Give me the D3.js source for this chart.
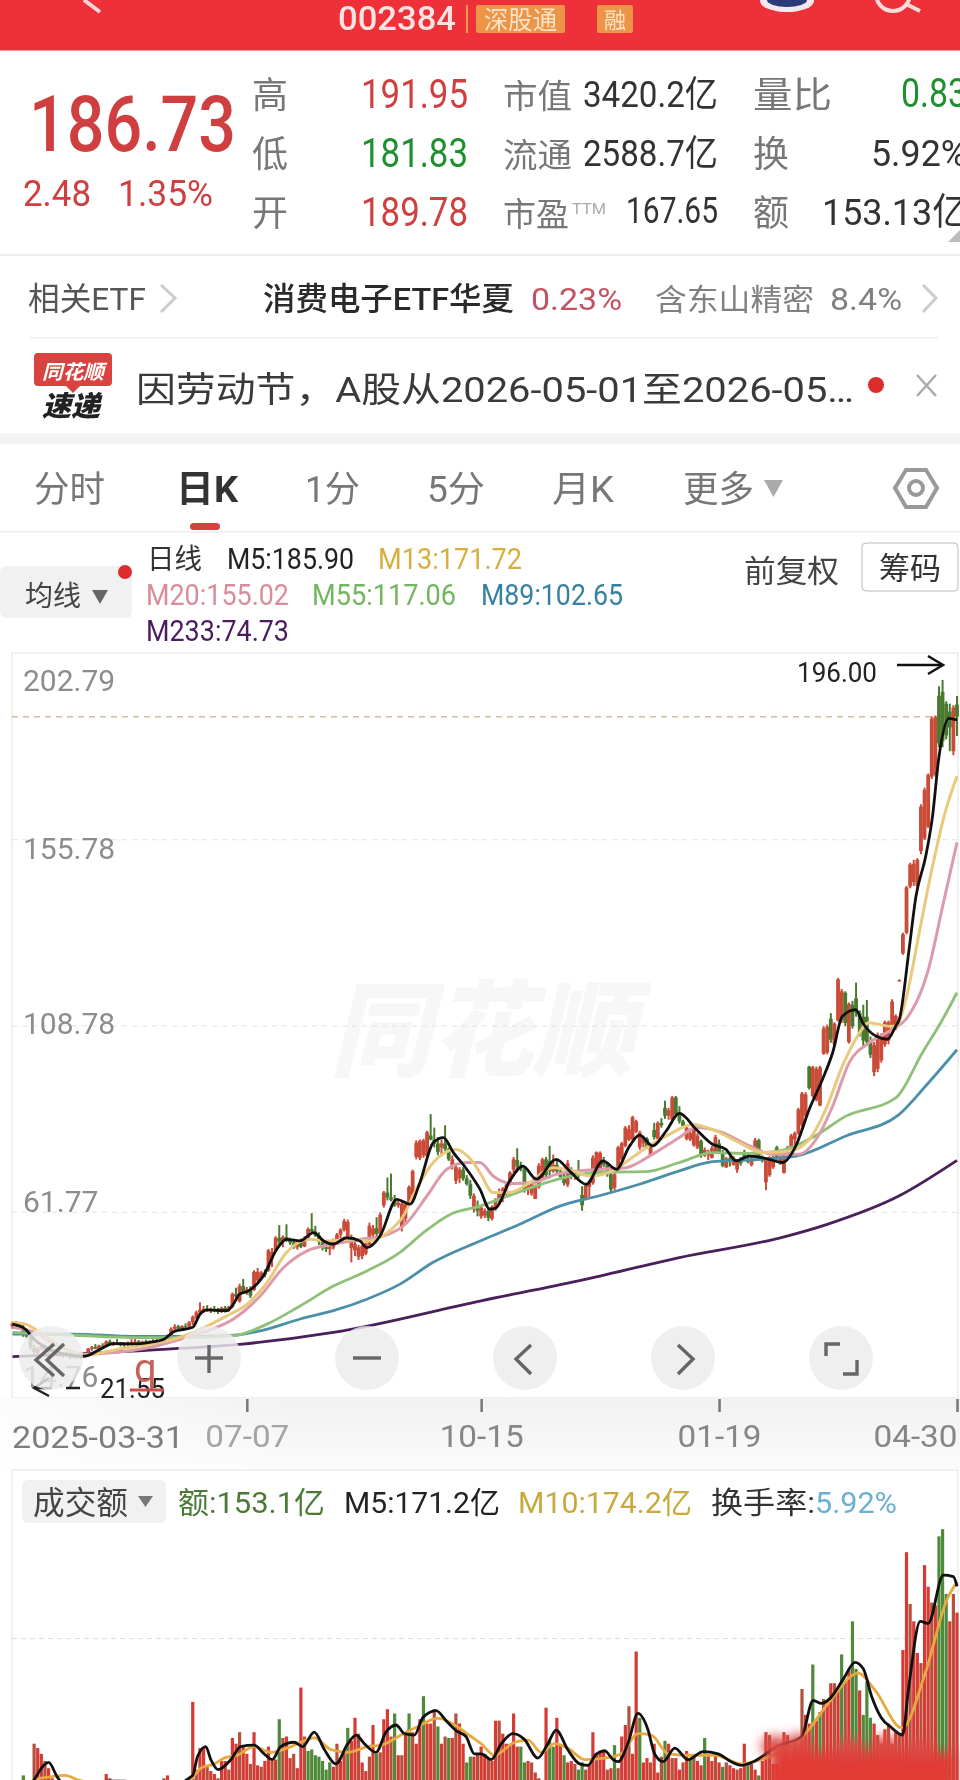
<!DOCTYPE html>
<html>
<head>
<meta charset="utf-8">
<script src="https://cdn.jsdelivr.net/npm/d3@7"></script>
<style>
  html, body { margin: 0; padding: 0; background: #fff; overflow: hidden; }
  svg { display: block; filter: blur(0.45px); }
  text { font-family: Roboto, "Noto Sans CJK SC", sans-serif; }
</style>
</head>
<body>
<script>
// one row per trading day: open, high, low, close
var candleRows = [
  [32.8,34,32.2,33.6],[33.6,34.2,32.8,33.2],[33.2,33.9,32.4,32.6],[32.6,33.8,30.2,31.4],[31.4,32,29.8,30.2],[30.2,30.8,27,27.6],[27.4,28.2,25.8,26.4],[26.2,27.6,25.6,27.2],[27.2,28.4,26.8,27.8],[27.6,28,26.6,26.9],
  [26.9,27.4,26,26.3],[26.3,27,25.9,26.7],[26.7,27.1,25.7,25.9],[25.9,26.5,25.2,25.5],[25.5,26.2,24.9,25.9],[25.9,26.4,25.1,25.4],[25.4,25.9,24.6,25],[25,25.8,24.8,25.5],[25.5,25.8,24.7,24.9],[24.9,25.9,24.6,25.7],
  [25.7,26.4,25.3,26.1],[26.1,27.4,25.9,27.2],[27.2,27.9,26.7,27.6],[27.6,28.4,27.1,27.2],[27.2,28.2,26.9,28],[28,28.6,27.5,27.8],[27.8,29.3,27.6,29],[29,29.5,28.1,28.4],[28.4,29,27.9,28.7],[28.7,29.6,28.2,28.4],
  [28.4,28.9,27.8,28.1],[28.1,28.8,27.6,28.5],[28.5,29,27.9,28.2],[28.2,29.6,28,28.9],[28.9,30.6,28.4,29],[29,29.4,28.1,28.4],[28.4,29.2,28.1,29],[29,29.5,28.3,28.6],[28.6,29.3,28.2,29.1],[29.1,29.6,28.5,28.9],
  [28.9,29.8,28.7,29.4],[29.4,29.9,28.9,29.2],[29.2,30.2,29,30],[30,30.8,29.6,30.4],[30,32.6,29.7,32.2],[32.2,33.4,31.4,32.8],[32.8,33.2,31.9,32.3],[32.3,33.1,32,32.9],[32.9,33.6,32.4,32.8],[32.8,34.2,32.5,33.8],
  [33.8,35.6,33.2,35.2],[35,36.8,34.6,36.4],[36.4,38.9,36,37],[37,38,36.2,37.2],[37.2,38.2,36.5,36.8],[36.8,37.6,36.2,37.2],[37.2,38,36.4,36.9],[36.9,37.5,36,36.5],[36.5,37.8,36.2,37.5],[37.5,38,36.3,37],
  [37,38,36.6,37.8],[37.8,41.4,37.4,41],[41,42.6,40,40.4],[39.2,43.6,38.8,43],[43,44.8,41.2,41.8],[41.8,42.8,40.8,42.2],[42.2,43,40,40.6],[42,47,41.8,46.6],[44.4,47.6,44,46.6],[44.8,46.8,44.4,46.4],
  [46.4,47.2,45.2,45.8],[47,52.4,46.6,52],[50,52.6,47.8,51.6],[52,55.6,51.6,55.2],[55.2,58.4,53,54.2],[54.2,55.8,52.8,55.4],[55.4,58.6,54.2,54.8],[54.8,55.2,53.4,54],[54,55,52.4,52.8],[52.8,54.6,52.2,54.2],
  [54.2,55,52.6,53],[53,55.6,52.8,55.2],[55.2,57.8,54.8,57.4],[57.4,61.4,56.2,56.8],[56.8,58.2,55.4,55.8],[55.8,56.6,53.4,54.2],[54.2,55,52,52.8],[52.8,53.6,51.6,52.4],[52.4,53.4,50.8,52.8],[52.8,55,52.2,54.6],
  [54.6,56.4,54.2,56],[56,57.6,55,57.2],[57.2,60,56.8,59.4],[55.6,59.8,55,59.2],[52.6,56,49,55],[52,54.2,50.6,53.6],[50.4,53.4,49.6,52.8],[50.6,53.4,49.8,53.2],[51.2,54,50.8,53.6],[53.4,59,53,58.2],
  [56,58.4,55,57.6],[57.6,60.4,55.6,56.2],[56.2,61.6,55.8,61],[63.4,67,62.8,66.6],[66.6,70.4,64.6,65.4],[65.4,71.4,64.4,64.8],[64.8,66,63,63.4],[63.4,64.6,62.8,64],[57.8,64.2,56.8,63.8],[60,64.4,59,63.6],
  [64,68.4,63.6,68],[66,72.4,65.4,72],[75.6,79.8,75,79.2],[75.4,80,74.8,79.6],[76,80.2,75.4,79.8],[75.8,82.2,75.4,81.8],[81,86.4,79.8,80],[80,83,78,79],[79,80.6,76,76.8],[78,80,75.8,79],
  [79,83.6,77,77.6],[77.6,78,74.6,75],[73.4,76,72.4,75],[69.6,73.6,68.8,73],[70.2,73,69,72.4],[72.4,73,69.6,70.2],[70.2,71,68.4,68.8],[68.8,69.8,65,65.8],[62.4,66.4,61.6,65.8],[62.6,64.6,60.6,62],
  [60.6,63.4,60,62.8],[60.8,62.6,60.2,62],[62,63,59.4,60.2],[60,63.4,59.6,63],[62.6,65.2,62,64.8],[64.4,67.6,63.4,67],[66,68,64.2,67.6],[67.6,69,66,68.6],[68.6,72,68.4,71.6],[72.4,75.6,71.6,75],
  [74.8,77.8,72.4,73.2],[73.2,74.4,72,72.6],[72.6,73,66.6,67.4],[67.4,69,66,68.6],[66.4,69.4,65.8,69],[65,68.6,65,68],[68,74,67.6,73.4],[70.4,75.4,70,75],[75,75.6,70.4,71],[74.6,78.4,70.2,72],
  [72,76.2,71.6,73.6],[73.6,75,71.2,72],[72,72.8,70,70.6],[70,71.4,68.4,69],[68.6,74.8,68,74],[72,73,70,70.6],[70.6,72,69.8,71.4],[71.4,74.8,70.2,71],[66,68.2,62,63.4],[65,68.8,64.8,68.4],
  [68,69.6,65.4,69],[69,76,68.6,75.4],[71.6,77,71.2,76.8],[72.8,77,72.4,76.6],[74.6,75.6,73,73.6],[73.6,74,70.6,71.2],[71.2,71.8,66.6,67.4],[67.8,71.6,67.2,71.2],[72.4,78.4,72,78],[75,79.4,74.6,79],
  [78.4,83.4,78,83],[80,83.6,79.6,82.6],[80,86,79.6,85.6],[82,85,81.6,84.6],[78,82.2,77.4,81.8],[79,81,78,80.4],[80.2,80.6,77.6,78],[76,78.6,75.8,78.2],[82.4,84.2,80,80.6],[80.2,84.6,79.8,84.2],
  [84.2,85.4,83,83.6],[88,89.8,85.2,86],[86,88,85,87.4],[85,91,84.6,90.6],[90.6,91,85.8,86.4],[86.4,88.4,84,84.6],[84.6,85,83,83.4],[80.2,83.4,79.8,83],[80,82.6,79.6,81.6],[78.6,83.2,78.2,82.4],
  [78,81.6,77.6,81],[79.6,80,75.4,76],[76,78,75.6,77.4],[76,77.4,74.8,76.8],[75.4,78.4,75.2,77.8],[76.8,81.2,76.4,80.6],[79,80,76.4,76.8],[76.8,77.4,73,73.4],[73,75.6,72.8,75.2],[75.2,76,73.2,74.8],
  [73.6,75.8,73.4,75.4],[72.4,75,71.6,74.6],[74.6,75.6,73.4,74],[76.4,77.4,74.8,75.2],[75.2,76.6,74,74.4],[73.6,75.6,73.2,75.2],[76,80.4,75.6,79.8],[79.8,80.2,74.8,75.4],[75,76,74.2,74.6],[69.2,75.2,67.2,74.8],
  [71,75.8,70.6,75.4],[73,76,72.6,75.6],[78,78.4,74.8,75.4],[74,76,73.6,75.6],[71.6,77.2,71.4,76.8],[76,78.4,75.6,78],[78,81.4,77.4,81],[80,82,78.6,81.6],[81.6,88,81.2,87.6],[83.6,92,83.2,91.6],
  [86,92,85,91.4],[98.4,98.6,92.6,93],[91,98.6,90.6,98.2],[90,98.4,89.6,97.8],[88.6,98.6,88.4,98.2],[101.6,108.6,101.4,108],[102,109,101.5,108.4],[110.5,111.9,104.4,105.2],[104,109.6,103.4,109.2],[110,120.8,109.8,120.4],
  [110,118,109.4,117.4],[117,117.4,108.6,109.4],[104.6,114.6,104.2,114.2],[114,115,108,108.6],[115.6,119.6,111,112],[112,112.6,106,107],[111,114,103.4,105],[111,115.2,103.6,104.6],[104.6,106,100.6,101.4],[97,104.6,96,103.8],
  [97.8,107,97,106.2],[100,106.8,99.4,106],[104,110,103.4,109.6],[105,110,104,109.6],[108.6,115.4,108,114.8],[108,111.6,107.6,111.2],[120,120.4,119.8,120.2],[127,132.2,126.6,131.8],[132.2,144,131.8,143.6],[143.9,149.8,143.4,149.4],
  [145,150.6,144,149.6],[144,151,143.6,150.6],[152.8,164.6,152,164],[156,168.8,155.6,168.2],[159,172.4,158.6,172],[171.6,186.8,171,186.2],[172,187,171.6,186.6],[192,194.4,179,180],[193,196,179,180.5],[190,190.6,181,182],
  [188,190,178,184],[178,189.6,177,189],[189.78,191.95,181.83,186.73]
];

// moving averages as [trading day, price]
var m5Points = [[0,33.4],[3.6,32.1],[6,29.6],[10,27.2],[15,25.8],[20,25.3],[24.4,27.1],[28,28.5],[33.6,28.4],[38,28.8],[42,29.6],[44.7,31.5],[50,32.6],[52,35.9],[54,37],[59.5,36.8],[61.3,38.5],[63,41],[65.5,41.8],[69.6,45.6],[73.3,52.3],[76,54.8],[79.8,54.4],[83.5,56.5],[86.3,54.4],[89,53.6],[92.7,55.2],[96.4,54.4],[98.3,52.7],[102,55.7],[106.6,64.9],[110.3,63.7],[113,69.1],[116.7,79.2],[119.5,80.5],[122.3,76.7],[126,72.5],[129.7,67.4],[132.4,62.4],[134.2,62.8],[137.9,69.5],[141.6,73.3],[145.3,70],[150.8,75],[154.5,72.1],[159.1,68.7],[163.8,74.6],[167.5,72.5],[171.2,78.4],[173.9,81.1],[177.6,78.4],[181.3,82.1],[185,86.6],[189.6,82.6],[194.2,78.8],[197.9,77.5],[200.7,74.6],[204.4,75.8],[209.9,75],[213.6,74.2],[217.3,78.4],[221,87.6],[224.7,95.2],[227.5,101.9],[230.2,111.1],[233.9,112.8],[235.8,109.5],[239.5,106.1],[242.7,105.3],[245,108.6],[246,110.3],[248.7,127.9],[250.6,141.3],[253.3,151.4],[255.2,161.5],[257,176.6],[259.8,186.3],[262,185.9]];
var m13Points = [[0,33.8],[3.6,33.4],[7,31.7],[13,28],[20,25.6],[29,27],[38,28.3],[44.7,29.6],[52,32.1],[59.5,35.5],[65,38.4],[70.6,43.9],[76,51.5],[82.6,54.8],[87,54.4],[93.7,54.8],[99,54.4],[104,56.5],[108.4,60.7],[112,67.4],[116.7,74.2],[123,77.5],[127.8,74.2],[129.7,71.6],[133.3,66.6],[137.9,66.6],[143.4,69.1],[149.9,72.9],[155.5,72.1],[160,70.8],[166.5,72.1],[171.2,75],[176.7,78.4],[182.2,81.3],[188.7,83.8],[195.2,82.1],[201.6,79.2],[208.1,76.7],[215.5,77.1],[221,80],[225.6,87.6],[230.2,98.5],[233.9,105.3],[237.6,109.5],[243.2,108.6],[245,108.6],[247.8,115.3],[251.5,132.1],[255.2,148.9],[258.9,163.2],[262,171.7]];
var m20Points = [[0,32.6],[7,31],[12.4,27.9],[20,25.8],[29,26.3],[38,27.5],[46.6,29.6],[54,31.7],[61.3,34.7],[68.7,40.5],[75.2,47.7],[81.7,51.9],[89,53.6],[96.4,54.8],[103,55.7],[109.4,59],[115,65.8],[120.5,72.5],[126,74.2],[129.7,74.2],[133.3,70.8],[138.8,68.9],[144.4,69.1],[150.8,71.2],[157.3,72.1],[163.8,72.5],[170.2,72.9],[177.6,76.3],[185,80.5],[189.6,83],[197,81.7],[203.5,78.8],[210.9,76.3],[218.2,76.3],[222.9,80],[227.5,88.4],[232.1,99.4],[237.6,104.4],[244.1,107.8],[247.8,110.3],[254.3,123.7],[258,138.8],[262,155]];
var m55Points = [[0,31.3],[17,30.6],[33.6,30],[47.5,30],[61.3,30.5],[70.6,33.4],[79.8,38],[89,43],[98.3,46.8],[107.5,51.5],[114,56.5],[121.4,61.1],[129.7,63.2],[138.8,66.2],[148,69.1],[157.3,71.2],[166.5,71.8],[175.8,71.9],[185,74.2],[194.2,76.7],[203.5,76.5],[212.7,77.1],[221.9,80.5],[231.2,85.9],[245,90.5],[252.4,101.9],[258,110.3],[262,117.06]];
var m89Points = [[0,30.9],[17,30.9],[33.6,30.3],[47.5,30.3],[61.3,30.6],[68.7,31.7],[79.8,34.7],[89,36.8],[98.3,39.7],[107.5,43.5],[116.7,49],[129.7,54.4],[140.7,58.6],[151.8,63.2],[162.8,65.8],[173.9,68.7],[185,72.1],[194.2,74.4],[203.5,74.8],[217.3,75.8],[231.2,80.9],[245.9,86.3],[253.3,93.5],[262,102.65]];
var m233Points = [[0,25.2],[43,27.1],[63,28.3],[89,31.3],[130,39.3],[157,44.3],[185,50.2],[213,55.2],[226,58.6],[246,65.8],[262,74.73]];

var priceTicks = [202.79, 155.78, 108.78, 61.77, 14.76];
var lastPrice = 186.73;
var dateTicks = [65, 130, 196, 262];
var dateLabels = ["07-07", "10-15", "01-19", "04-30"];

// amount per day in 亿, only the tops above the photo edge can be read, the rest is a guess
var amounts = [
  30,32,33,40,34,33,62,59,55,50, 45,38,34,32,30,28,27,28,26,25, 26,27,28,30,32,33,41,38,34,30,
  28,27,26,28,30,28,27,26,28,30, 31,33,38,40,32,34,30,33,36,38, 91,44,59,59,47,43,41,38,50,50,
  44,66,62,70,60,55,48,70,47,46, 50,60,50,51,79,66,67,52,55,45, 101,67,57,58,54,53,50,44,49,46,
  62,50,57,73,64,80,69,49,43,53, 75,55,56,79,86,67,83,54,54,68, 83,70,62,79,95,76,76,86,74,62,
  67,66,66,83,76,62,49,53,53,55, 60,55,52,50,78,78,69,62,62,83, 60,60,49,50,49,42,38,35,87,64,
  60,80,61,54,49,50,48,44,49,44, 48,70,55,57,58,44,45,61,45,67, 75,88,55,126,80,49,52,49,62,42,
  53,64,62,52,52,44,49,57,52,54, 50,47,66,54,50,55,49,46,49,47, 45,44,45,62,49,48,44,40,50,70,
  68,48,48,44,70,68,52,63,55,100, 82,76,117,78,84,93,91,104,104,99, 124,105,114,147,114,99,82,105,80,76,
  68,62,72,76,62,70,68,127,195,159, 147,125,118,186,171,160,158,206,211,166, 147,166,153
];
var greenAmountDays = [3,74,82,83,84,85,86,87,88,93,101,106,110,114,118,121,126,127,141,142,149,150,153,157,158,167,174,181,188,192,197,204,207,222,224,230,233,234,236,237,238,257,258,259];

var amountM5 = [[4,30],[6,37],[8.7,47],[10,49],[12.4,39],[14.3,33],[20,28],[26,36],[31,36],[40,30],[50,40],[51.3,53],[53.6,60],[55,51],[57,44],[60.6,51],[63.3,60],[67,61],[69.8,55],[72.1,51],[74.4,60],[78.1,63],[80.5,60],[83.7,70],[86.5,58],[89.7,48],[93,62],[95.3,68],[97.6,62],[100.8,56],[103.6,70],[106.4,75],[108.7,69],[111.5,68],[113.8,80],[117.5,85],[120.3,78],[123.1,71],[125.8,67],[128.1,55],[130,55],[132.8,51],[135.6,62],[138.8,69],[142,65],[145.7,52],[148.5,62],[150.8,71.5],[154,58],[157.3,48],[159.6,47],[162,55],[164.3,57],[166.6,51],[168,49.5],[170.7,62],[173.5,83],[176.3,71.5],[178.1,55],[180.5,49.5],[183.7,59],[187.4,51],[191.6,56.5],[195.7,55],[199.4,49.5],[202.2,47],[204,48],[205.5,49.5],[212,60],[218.9,67],[222.1,92],[224.4,90],[226.8,93.5],[230.5,107],[233.7,118.5],[236,114],[238.3,95],[241,80],[243.9,73],[246.9,68],[248.5,99],[251.8,147],[254,145.5],[258.2,179],[261,178],[262,171.2]];
var amountM10 = [[4,32],[6,37],[10.5,39],[14.7,40],[18,37],[26,34],[40,32],[49.4,37],[52.2,45],[56,48],[58.7,52],[62.4,54],[67,60],[71.7,56],[76.3,59],[80,63],[83.7,66],[88.3,58],[93,56],[98.5,60],[102.2,61],[107.8,68],[112.4,74],[118,79.6],[122.6,75],[127.2,67],[130,62],[133.7,54],[139.3,63],[143,64.5],[146.7,56],[150.4,62],[154,59],[158.7,51],[164.3,52],[168.9,55],[173.5,69],[177.2,68],[181.9,55],[187.4,54],[194.8,54],[202.2,48],[205.5,49.5],[212,55],[218.9,66],[226.3,90],[234.6,111],[239.3,99],[246.7,73],[253.2,111],[259.2,162],[262,174.2]];

(function () {
  var svg = d3.select("body").append("svg").attr("width", 960).attr("height", 1780);
  var defs = svg.append("defs");

  function txt(x, y, s, size, color, o) {
    o = o || {};
    var t = svg.append("text")
      .attr("x", x).attr("y", y)
      .attr("font-size", size)
      .attr("fill", color)
      .attr("font-weight", o.weight || 400)
      .attr("text-anchor", o.anchor || "start")
      .text(s);
    if (o.len) t.attr("textLength", o.len).attr("lengthAdjust", "spacingAndGlyphs");
    if (o.italic) t.attr("font-style", "italic");
    return t;
  }
  function chevron(pts, color, w) {
    svg.append("path").attr("d", d3.line()(pts)).attr("fill", "none")
      .attr("stroke", color).attr("stroke-width", w);
  }

  // header
  svg.append("rect").attr("width", 960).attr("height", 50.5).attr("fill", "#ee3039");
  chevron([[84, 0], [100, 12]], "#f6d5d5", 4);
  svg.append("ellipse").attr("cx", 787).attr("cy", 1).attr("rx", 27).attr("ry", 11).attr("fill", "#f4e8ee");
  svg.append("ellipse").attr("cx", 787).attr("cy", 0).attr("rx", 20).attr("ry", 7).attr("fill", "#2b3a78");
  svg.append("circle").attr("cx", 893).attr("cy", -6).attr("r", 17).attr("fill", "none").attr("stroke", "#f8dcdc").attr("stroke-width", 4);
  chevron([[906, 4], [920, 11]], "#f8dcdc", 4);
  txt(338, 30, "002384", 34, "#f8e4e2", { len: 118, weight: 500 });
  svg.append("rect").attr("x", 466).attr("y", 5).attr("width", 2).attr("height", 28).attr("fill", "#ef9a4a");
  svg.append("rect").attr("x", 476).attr("y", 5).attr("width", 89).attr("height", 28).attr("rx", 2).attr("fill", "#ee9447");
  txt(484, 29, "深股通", 25, "#fbe3c9", { len: 73 });
  svg.append("rect").attr("x", 597).attr("y", 5).attr("width", 36).attr("height", 28).attr("rx", 2).attr("fill", "#ee9447");
  txt(604, 28, "融", 22, "#fbe3c9");

  // quote block
  var red = "#cf3f3f", green = "#1f9030", dark = "#333", gray = "#777";
  txt(29, 151, "186.73", 78, red, { len: 207, weight: 500 });
  txt(23, 206, "2.48", 37, red, { len: 68 });
  txt(118, 206, "1.35%", 37, red, { len: 95 });
  [["高", 108], ["低", 167], ["开", 226]].forEach(function (d) { txt(252, d[1], d[0], 36, gray); });
  txt(361, 108, "191.95", 40, red, { len: 107 });
  txt(361, 167, "181.83", 40, green, { len: 107 });
  txt(361, 226, "189.78", 40, red, { len: 107 });
  txt(503, 108, "市值", 33, gray, { len: 69 });
  txt(503, 167, "流通", 33, gray, { len: 69 });
  txt(503, 226, "市盈", 33, gray, { len: 66 });
  txt(572, 214, "TTM", 15, "#aaa", { len: 34 });
  txt(583, 107, "3420.2亿", 36, dark, { len: 135 });
  txt(583, 166, "2588.7亿", 36, dark, { len: 135 });
  txt(626, 223, "167.65", 36, dark, { len: 92 });
  txt(753, 108, "量比", 36, gray, { len: 79 });
  txt(753, 167, "换", 36, gray);
  txt(753, 226, "额", 36, gray);
  txt(901, 107, "0.83", 40, green, { len: 66 });
  txt(871, 166, "5.92%", 37, dark, { len: 96 });
  txt(822, 225, "153.13亿", 37, dark, { len: 146 });
  svg.append("path").attr("d", "M948,242L960,230V242Z").attr("fill", "#bbb");
  svg.append("rect").attr("y", 254).attr("width", 960).attr("height", 2).attr("fill", "#eee");

  // etf row
  txt(28, 310, "相关ETF", 32, "#555", { len: 118 });
  chevron([[161, 285], [175, 298], [161, 312]], "#ccc", 3);
  txt(263, 310, "消费电子ETF华夏", 32, "#2a2a2a", { len: 251, weight: 500 });
  txt(531, 310, "0.23%", 32, "#c25362", { len: 91 });
  txt(655, 310, "含东山精密", 30, "#808080", { len: 159 });
  txt(830, 310, "8.4%", 32, "#808080", { len: 72 });
  chevron([[923, 285], [936, 298], [923, 312]], "#ccc", 3);
  svg.append("rect").attr("x", 30).attr("y", 337).attr("width", 908).attr("height", 1.5).attr("fill", "#eee");

  // news row
  svg.append("rect").attr("x", 34).attr("y", 353).attr("width", 78).attr("height", 33).attr("rx", 4).attr("fill", "#d8433f");
  svg.append("path").attr("d", "M66,386L73,393L80,386Z").attr("fill", "#d8433f");
  txt(42, 379, "同花顺", 20, "#fff", { italic: true, weight: 700, len: 62 });
  txt(42, 416, "速递", 28, "#222", { italic: true, weight: 900, len: 58 });
  txt(136, 402, "因劳动节，A股从2026-05-01至2026-05…", 35, "#3a3a3a", { len: 718 });
  svg.append("circle").attr("cx", 876).attr("cy", 385).attr("r", 8).attr("fill", "#dd2c2c");
  chevron([[917, 375], [936, 396]], "#aaa", 2.5);
  chevron([[936, 375], [917, 396]], "#aaa", 2.5);
  svg.append("rect").attr("y", 433).attr("width", 960).attr("height", 11).attr("fill", "#f3f3f3");

  // tabs
  txt(34, 502, "分时", 36, "#777", { len: 71 });
  txt(176, 502, "日K", 37, "#333", { len: 62, weight: 700 });
  txt(305, 502, "1分", 36, "#777", { len: 55 });
  txt(427, 502, "5分", 36, "#777", { len: 58 });
  txt(552, 502, "月K", 36, "#777", { len: 62 });
  txt(683, 502, "更多", 36, "#777", { len: 71 });
  svg.append("path").attr("d", "M764,480H783L773.5,497Z").attr("fill", "#aaa");
  svg.append("path").attr("d", "M906,470H926L937,488L926,507H906L895,488Z").attr("fill", "none").attr("stroke", "#999").attr("stroke-width", 4);
  svg.append("circle").attr("cx", 916).attr("cy", 488).attr("r", 7).attr("fill", "none").attr("stroke", "#999").attr("stroke-width", 4);
  svg.append("rect").attr("x", 190).attr("y", 523).attr("width", 30).attr("height", 7).attr("rx", 3.5).attr("fill", "#d8403f");
  svg.append("rect").attr("y", 531).attr("width", 960).attr("height", 1.5).attr("fill", "#eee");

  // moving average legend
  txt(147, 569, "日线", 28, "#333", { len: 55 });
  txt(227, 569, "M5:185.90", 29, "#222", { len: 127 });
  txt(378, 569, "M13:171.72", 29, "#d9ae3f", { len: 144 });
  txt(146, 605, "M20:155.02", 29, "#d98c9c", { len: 143 });
  txt(312, 605, "M55:117.06", 29, "#74b560", { len: 144 });
  txt(481, 605, "M89:102.65", 29, "#36819f", { len: 142 });
  txt(146, 641, "M233:74.73", 29, "#4a1b5e", { len: 143 });
  svg.append("rect").attr("y", 566).attr("width", 132).attr("height", 52).attr("rx", 6).attr("fill", "#f1f1f1");
  txt(25, 606, "均线", 28, "#444", { len: 56 });
  svg.append("path").attr("d", "M92,590H108L100,604Z").attr("fill", "#666");
  svg.append("circle").attr("cx", 125).attr("cy", 572).attr("r", 7).attr("fill", "#dd2c2c");
  txt(744, 582, "前复权", 31, "#444", { len: 95 });
  svg.append("rect").attr("x", 862).attr("y", 543).attr("width", 96).attr("height", 48).attr("rx", 4).attr("fill", "#fff").attr("stroke", "#bbb");
  txt(879, 579, "筹码", 31, "#333", { len: 62 });

  // price panel
  var x = d3.scaleLinear().domain([0, 262]).range([12.5, 957]);
  var y = d3.scaleLinear().domain([14.76, 202.79]).range([1398, 653]);

  svg.append("rect").attr("x", 12).attr("y", 653).attr("width", 946).attr("height", 745)
    .attr("fill", "#fff").attr("stroke", "#ececec").attr("stroke-width", 1.5);
  svg.append("text").attr("x", 482).attr("y", 1068).attr("text-anchor", "middle")
    .attr("font-size", 104).attr("font-style", "italic").attr("font-weight", 900)
    .attr("fill", "#f7f7f7").attr("textLength", 305).attr("lengthAdjust", "spacingAndGlyphs").text("同花顺");

  var labelDy = { "202.79": 37, "155.78": 19, "108.78": 8, "61.77": 0, "14.76": -12 };
  var priceAxis = svg.append("g").attr("transform", "translate(12,0)")
    .call(d3.axisRight(y).tickValues(priceTicks).tickSize(946).tickFormat(d3.format(".2f")));
  priceAxis.select(".domain").remove();
  priceAxis.selectAll("line").attr("stroke", "#e2e2e2").attr("stroke-dasharray", "5 5");
  priceAxis.selectAll(".tick").filter(function (d) { return d === 202.79 || d === 14.76; }).select("line").remove();
  priceAxis.selectAll("text")
    .attr("x", 11)
    .attr("dy", function (d) { return labelDy[d.toFixed(2)]; })
    .attr("text-anchor", "start")
    .attr("font-size", 30)
    .attr("font-family", "Roboto")
    .attr("fill", "#8c8c8c");

  svg.append("line").attr("x1", 12).attr("x2", 958).attr("y1", y(lastPrice)).attr("y2", y(lastPrice))
    .attr("stroke", "#cdbf9f").attr("stroke-width", 1.5).attr("stroke-dasharray", "6 5");

  // candles
  var upColor = "#cb4b39", downColor = "#4a7a30";
  function isUp(r) { return r[3] >= r[0]; }
  var candle = svg.append("g").selectAll("g").data(candleRows).enter().append("g");
  candle.append("line")
    .attr("x1", function (r, i) { return x(i); }).attr("x2", function (r, i) { return x(i); })
    .attr("y1", function (r) { return y(r[1]); }).attr("y2", function (r) { return y(r[2]); })
    .attr("stroke", function (r) { return isUp(r) ? upColor : downColor; })
    .attr("stroke-width", 2);
  candle.append("rect")
    .attr("x", function (r, i) { return x(i) - 1.9; })
    .attr("width", 3.8)
    .attr("y", function (r) { return y(Math.max(r[0], r[3])); })
    .attr("height", function (r) { return Math.max(1, Math.abs(y(r[0]) - y(r[3]))); })
    .attr("fill", function (r) { return isUp(r) ? upColor : downColor; });

  // moving average curves
  var curve = d3.line().x(function (d) { return x(d[0]); }).y(function (d) { return y(d[1]); }).curve(d3.curveMonotoneX);
  [[m233Points, "#4a1f5c", 2.8], [m89Points, "#4c8fa8", 2.8], [m55Points, "#8fc078", 2.8],
   [m20Points, "#dd9aa8", 3], [m13Points, "#e9c97c", 3], [m5Points, "#111", 2.8]].forEach(function (s) {
    svg.append("path").attr("d", curve(s[0])).attr("fill", "none").attr("stroke", s[1]).attr("stroke-width", s[2]);
  });

  // extreme markers
  txt(797, 682, "196.00", 27, "#222", { len: 80 });
  chevron([[897, 665], [942, 665]], "#111", 2.5);
  chevron([[928, 656], [943, 665], [928, 674]], "#111", 2.5);
  txt(100, 1398, "21.55", 27, "#222", { len: 65 });
  chevron([[52, 1388], [34, 1388]], "#222", 2.5);
  chevron([[49, 1378], [34, 1388], [49, 1396]], "#222", 2.5);
  chevron([[66, 1388], [80, 1388]], "#222", 2.5);
  txt(134, 1382, "q", 40, "#c8605a");
  chevron([[130, 1390], [164, 1390]], "#c8504a", 3);

  // zoom buttons floating on the chart
  [51, 209, 367, 525, 683, 841].forEach(function (cx) {
    svg.append("circle").attr("cx", cx).attr("cy", 1358).attr("r", 32).attr("fill", "#ececec").attr("opacity", 0.82);
  });
  var icon = "#666";
  chevron([[54, 1344], [36, 1360], [54, 1376]], icon, 3.4);
  chevron([[64, 1344], [47, 1360], [64, 1376]], icon, 3.4);
  chevron([[195, 1358], [223, 1358]], icon, 3.4);
  chevron([[209, 1345], [209, 1373]], icon, 3.4);
  chevron([[353, 1358], [381, 1358]], icon, 3.4);
  chevron([[531, 1345], [516, 1359], [531, 1374]], icon, 3.4);
  chevron([[678, 1345], [693, 1359], [678, 1374]], icon, 3.4);
  chevron([[826, 1356], [826, 1344], [840, 1344]], icon, 3.4);
  chevron([[857, 1360], [857, 1374], [843, 1374]], icon, 3.4);

  // date axis
  var strip = defs.append("linearGradient").attr("id", "strip").attr("x1", 0).attr("x2", 0).attr("y1", 0).attr("y2", 1);
  strip.append("stop").attr("offset", 0).attr("stop-color", "#f1f1f1");
  strip.append("stop").attr("offset", 1).attr("stop-color", "#fbfbfb");
  var fade = defs.append("linearGradient").attr("id", "fade");
  fade.append("stop").attr("offset", 0).attr("stop-color", "#fff").attr("stop-opacity", 0.85);
  fade.append("stop").attr("offset", 1).attr("stop-color", "#fff").attr("stop-opacity", 0);
  svg.append("rect").attr("y", 1398).attr("width", 960).attr("height", 70).attr("fill", "url(#strip)");
  svg.append("rect").attr("y", 1398).attr("width", 300).attr("height", 70).attr("fill", "url(#fade)");
  var dateAxis = svg.append("g").attr("transform", "translate(0,1399)")
    .call(d3.axisBottom(x).tickValues(dateTicks).tickSize(13).tickFormat(function (d, i) { return dateLabels[i]; }));
  dateAxis.select(".domain").remove();
  dateAxis.selectAll("line").attr("stroke", "#777").attr("stroke-width", 2.5);
  dateAxis.selectAll("text")
    .attr("y", 26).attr("dy", "0.71em")
    .attr("font-size", 31).attr("font-family", "Roboto").attr("fill", "#868686")
    .attr("textLength", 84).attr("lengthAdjust", "spacingAndGlyphs");
  dateAxis.selectAll(".tick").filter(function (d) { return d === 262; }).select("text").attr("text-anchor", "end");
  dateAxis.selectAll(".tick").filter(function (d) { return d === 65; }).select("text").attr("fill", "#a4a4a4");
  txt(12, 1448, "2025-03-31", 31, "#7d7d7d", { len: 172 });

  // amount panel
  svg.append("rect").attr("x", 12).attr("y", 1470).attr("width", 946).attr("height", 320)
    .attr("fill", "#fff").attr("stroke", "#ececec").attr("stroke-width", 1.5);
  var yVol = d3.scaleLinear().domain([0, 212]).range([1833, 1527.7]);
  svg.append("line").attr("x1", 12).attr("x2", 958).attr("y1", yVol(135)).attr("y2", yVol(135))
    .attr("stroke", "#ddd").attr("stroke-dasharray", "5 4");
  svg.append("rect").attr("x", 22).attr("y", 1480).attr("width", 144).attr("height", 43).attr("rx", 6).attr("fill", "#f1f1f1");
  txt(33, 1514, "成交额", 32, "#444", { len: 95 });
  svg.append("path").attr("d", "M138,1496H153L145.5,1507Z").attr("fill", "#777");
  txt(178, 1513, "额:153.1亿", 30, "#4a7a35", { len: 147 });
  txt(344, 1513, "M5:171.2亿", 30, "#222", { len: 156 });
  txt(518, 1513, "M10:174.2亿", 30, "#c9a83c", { len: 174 });
  txt(711, 1513, "换手率:", 30, "#333", { len: 104 });
  txt(815, 1513, "5.92%", 30, "#6ab0cf", { len: 82 });

  svg.append("g").selectAll("rect").data(amounts).enter().append("rect")
    .attr("x", function (d, i) { return x(i) - 1.6; })
    .attr("width", 3.2)
    .attr("y", function (d) { return yVol(d); })
    .attr("height", function (d) { return yVol(0) - yVol(d); })
    .attr("fill", function (d, i) {
      if (greenAmountDays.indexOf(i) >= 0) return "#4f8a3a";
      return i % 3 === 0 ? "#b5503c" : "#d63a33";
    });

  var volCurve = d3.line().x(function (d) { return x(d[0]); }).y(function (d) { return yVol(d[1]); }).curve(d3.curveMonotoneX);
  svg.append("path").attr("d", volCurve(amountM10)).attr("fill", "none").attr("stroke", "#e8a93f").attr("stroke-width", 2.8);
  svg.append("path").attr("d", volCurve(amountM5)).attr("fill", "none").attr("stroke", "#111").attr("stroke-width", 2.8);

  // smudged watermark in the corner of the photo
  var blur = defs.append("filter").attr("id", "smudge").attr("x", "-20%").attr("y", "-20%").attr("width", "140%").attr("height", "140%");
  blur.append("feGaussianBlur").attr("stdDeviation", 6);
  var smudge = svg.append("g").attr("filter", "url(#smudge)");
  smudge.append("rect").attr("x", 770).attr("y", 1752).attr("width", 185).attr("height", 40).attr("fill", "#e23a34");
  [[775, 1746], [800, 1744], [850, 1748], [885, 1746], [920, 1750]].forEach(function (p) {
    smudge.append("ellipse").attr("cx", p[0]).attr("cy", p[1]).attr("rx", 14).attr("ry", 10).attr("fill", "#dc4a44");
  });
})();
</script>
</body>
</html>
